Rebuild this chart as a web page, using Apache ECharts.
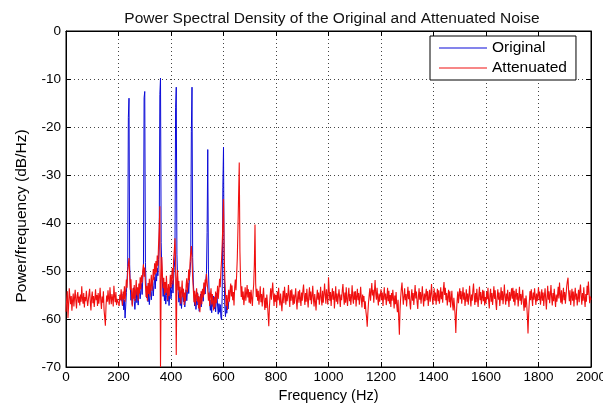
<!DOCTYPE html>
<html><head><meta charset="utf-8">
<script src="https://cdn.jsdelivr.net/npm/echarts/dist/echarts.min.js"></script>
<style>html,body{margin:0;padding:0;background:#fff}#c{width:603px;height:407px}</style>
</head><body><div id="c"></div>
<script>
const chartTitle = 'Power Spectral Density of the Original and Attenuated Noise';
const xAxisTitle = 'Frequency (Hz)';
const yAxisTitle = 'Power/frequency (dB/Hz)';
const seriesNames = ['Original', 'Attenuated'];
const xTickValues = [0, 200, 400, 600, 800, 1000, 1200, 1400, 1600, 1800, 2000];
const yTickValues = [-70, -60, -50, -40, -30, -20, -10, 0];
const freqStep = 2.5;            // Hz between samples
const originalStartHz = 210;
const originalValues = [
  // 210-297.5
  -56.3, -54.8, -57.2, -55.4, -58.1, -56.0, -59.8, -57.3, -54.5, -52.1,
  -49.0, -18, -14, -48.7, -53.4, -56.1, -54.3, -57.0, -55.2, -53.5,
  -56.4, -58.0, -55.7, -53.9, -56.6, -54.2, -57.1, -55.0, -53.3, -55.8,
  -54.1, -52.6, -54.9, -51.7, -49.5, -13.9,
  // 300-397.5
  -12.6, -48.2, -53.1, -55.6, -53.8, -56.4, -54.5, -57.0, -55.1, -53.2,
  -56.0, -54.3, -52.4, -55.2, -53.0, -51.3, -53.7, -50.5, -52.1, -49.4,
  -51.0, -47.6, -45.2, -13.2, -9.8, -44.1, -49.8, -52.7, -55.3, -53.4,
  -56.2, -54.0, -56.9, -55.1, -53.6, -56.3, -54.5, -57.2, -55.0, -53.3,
  // 400-497.5
  -55.8, -53.9, -52.0, -54.6, -51.5, -49.2, -47.0, -16, -11.7, -46.5,
  -51.4, -54.2, -56.5, -54.0, -57.2, -55.3, -57.8, -55.5, -53.7, -56.4,
  -54.6, -57.5, -55.8, -53.9, -56.2, -54.3, -52.5, -54.7, -51.8, -49.9,
  -48.0, -21, -11.7, -47.2, -52.3, -55.0, -57.3, -55.6, -58.0, -56.2,
  // 500-597.5
  -54.5, -57.1, -55.3, -58.4, -56.7, -54.8, -57.5, -55.6, -53.9, -56.3,
  -54.4, -52.6, -54.8, -52.0, -50.5, -42, -24.7, -49.6, -54.1, -56.8,
  -58.2, -56.0, -58.7, -55.9, -57.4, -55.2, -57.9, -56.1, -58.5, -56.3,
  -54.6, -57.3, -59.0, -56.8, -58.6, -57.0, -59.6, -60.2, -55.0, -32.6,
  // 600-620
  -24.2, -50.3, -57.4, -59.5, -57.2, -58.8, -56.5, -57.9, -56.3
];
const attenuatedStartHz = 0;
const attenuatedValues = [
  // 0-97.5
  -58.5, -56.0, -54.2, -59.8, -57.1, -53.6, -55.4, -56.9, -55.2, -58.3,
  -56.1, -54.7, -57.4, -55.6, -53.9, -56.2, -57.8, -55.1, -54.4, -56.6,
  -55.3, -57.2, -54.9, -56.4, -53.2, -55.7, -56.8, -54.6, -57.6, -55.4,
  -56.3, -54.1, -55.9, -57.3, -56.1, -54.8, -53.7, -56.4, -58.2, -55.5,
  // 100-197.5
  -54.3, -56.7, -55.2, -57.5, -55.9, -53.8, -56.1, -55.0, -57.3, -54.6,
  -56.8, -55.4, -53.5, -56.2, -57.9, -55.3, -56.6, -54.2, -58.1, -59.7,
  -61.4, -57.2, -55.1, -56.4, -54.0, -55.8, -57.0, -53.4, -55.6, -56.9,
  -54.8, -55.7, -57.4, -53.1, -55.2, -56.5, -54.4, -57.1, -55.8, -56.2,
  // 200-297.5
  -55.6, -57.3, -54.9, -56.1, -53.8, -55.5, -57.2, -54.3, -55.9, -53.2,
  -56.4, -54.1, -51.8, -53.5, -50.2, -48.5, -47.3, -50.6, -53.9, -51.7,
  -55.2, -57.4, -53.6, -55.8, -52.9, -56.3, -54.2, -51.9, -55.1, -53.4,
  -56.2, -52.6, -54.7, -51.3, -53.8, -50.9, -52.4, -49.8, -48.6, -51.2,
  // 300-397.5
  -49.3, -52.7, -55.4, -53.1, -56.2, -52.5, -54.8, -51.6, -55.3, -53.0,
  -50.8, -54.1, -52.2, -49.6, -51.9, -48.4, -50.7, -47.9, -50.3, -46.8,
  -48.9, -44.6, -41.2, -36.5, -70.0, -52.8, -47.1, -50.9, -53.6, -51.4,
  -55.0, -52.3, -54.6, -51.0, -53.9, -56.1, -52.7, -55.2, -53.4, -50.8,
  // 400-497.5
  -53.5, -51.2, -49.4, -52.8, -47.6, -45.9, -43.2, -48.1, -67.5, -51.7,
  -49.8, -54.0, -52.1, -55.6, -53.3, -56.8, -54.2, -52.0, -55.5, -53.7,
  -57.1, -54.5, -56.3, -53.0, -51.5, -54.4, -52.6, -49.7, -51.9, -48.3,
  -46.2, -44.8, -47.5, -51.4, -53.8, -56.5, -54.1, -57.2, -55.0, -53.6,
  // 500-597.5
  -56.4, -54.7, -57.8, -55.3, -58.6, -56.0, -54.2, -56.9, -53.7, -55.5,
  -52.4, -54.9, -51.8, -53.3, -50.6, -52.2, -53.9, -56.2, -54.5, -57.3,
  -55.1, -53.6, -57.0, -54.8, -56.5, -58.2, -55.4, -57.6, -54.3, -56.7,
  -55.2, -53.1, -55.8, -54.0, -51.6, -53.4, -50.2, -47.8, -44.5, -40.2,
  // 600-697.5
  -35.0, -46.3, -51.5, -54.6, -57.3, -55.0, -58.1, -55.7, -53.9, -56.4,
  -54.2, -52.6, -55.3, -53.0, -56.1, -54.4, -57.2, -53.5, -51.8, -54.0,
  -50.9, -47.4, -41.3, -34.3, -27.4, -45.8, -52.1, -55.4, -53.2, -56.0,
  -54.3, -57.1, -55.6, -53.4, -56.2, -54.7, -52.9, -55.5, -53.8, -56.6,
  // 700-797.5
  -54.4, -56.8, -53.9, -55.7, -57.3, -54.6, -52.8, -48.7, -40.3, -52.5,
  -55.4, -53.7, -56.2, -54.1, -57.0, -55.3, -53.2, -56.5, -54.8, -57.4,
  -55.1, -53.5, -56.3, -58.1, -55.6, -57.7, -54.9, -56.8, -59.2, -61.5,
  -57.4, -55.2, -53.6, -56.0, -54.2, -52.4, -55.1, -57.3, -54.7, -56.4,
  // 800-897.5
  -55.0, -57.6, -54.3, -56.1, -53.5, -55.8, -57.2, -54.7, -56.5, -58.4,
  -55.9, -54.1, -56.7, -53.3, -55.2, -57.0, -54.6, -56.3, -55.1, -52.9,
  -55.6, -57.5, -54.0, -56.2, -53.8, -55.4, -57.1, -54.9, -56.8, -55.3,
  -53.6, -56.0, -58.0, -55.5, -54.2, -56.6, -53.9, -55.7, -57.3, -54.5,
  // 900-997.5
  -56.2, -54.0, -52.8, -55.3, -57.1, -54.6, -56.4, -53.7, -55.9, -57.6,
  -55.0, -53.4, -56.1, -54.3, -56.9, -55.2, -53.1, -55.7, -57.4, -54.8,
  -56.3, -58.2, -55.6, -53.9, -56.0, -54.5, -57.0, -55.4, -53.3, -55.8,
  -57.2, -54.1, -56.6, -55.0, -52.6, -54.9, -56.8, -53.8, -55.5, -57.0,
  // 1000-1097.5
  -51.3, -53.9, -56.2, -54.4, -57.3, -55.1, -53.6, -56.0, -54.2, -57.8,
  -55.5, -53.2, -56.4, -54.7, -56.9, -55.3, -53.8, -55.6, -57.5, -54.9,
  -56.1, -54.0, -52.7, -55.2, -57.0, -54.5, -56.6, -53.4, -55.9, -57.3,
  -55.0, -53.5, -56.3, -54.8, -57.1, -55.4, -53.0, -55.7, -56.8, -54.3,
  // 1100-1197.5
  -56.0, -54.2, -57.4, -55.3, -53.7, -56.1, -54.6, -57.0, -55.5, -53.3,
  -55.8, -57.6, -54.9, -56.4, -55.2, -57.9, -56.3, -58.4, -59.6, -61.6,
  -58.7, -56.5, -55.0, -53.6, -56.2, -54.4, -52.5, -55.1, -53.9, -56.6,
  -54.2, -51.9, -54.8, -56.0, -53.5, -55.6, -57.2, -54.7, -56.4, -55.0,
  // 1200-1297.5
  -53.8, -56.1, -54.5, -57.3, -55.2, -53.4, -56.0, -54.7, -57.1, -55.6,
  -53.5, -56.3, -54.1, -56.8, -55.0, -57.5, -54.6, -56.2, -53.9, -55.7,
  -57.8, -55.1, -56.9, -54.4, -57.2, -58.6, -56.0, -59.8, -63.3, -58.1,
  -55.5, -53.7, -52.4, -54.9, -57.0, -55.3, -53.6, -56.1, -54.8, -57.4,
  // 1300-1397.5
  -55.2, -53.3, -55.9, -54.1, -56.7, -58.0, -55.4, -53.8, -56.2, -54.6,
  -57.1, -55.0, -52.9, -55.7, -54.3, -56.5, -57.9, -55.3, -53.6, -56.0,
  -54.4, -56.8, -55.1, -53.2, -55.8, -57.4, -54.7, -56.3, -55.0, -53.7,
  -56.1, -54.2, -57.3, -55.6, -53.9, -56.4, -54.8, -52.7, -55.3, -57.0,
  // 1400-1497.5
  -55.4, -53.6, -56.2, -54.5, -57.0, -55.1, -53.7, -56.3, -54.0, -56.8,
  -55.5, -53.4, -55.9, -54.3, -56.6, -53.8, -52.3, -55.0, -53.5, -56.1,
  -54.6, -57.2, -55.3, -53.9, -56.5, -54.2, -57.6, -55.8, -54.1, -56.9,
  -58.2, -55.6, -57.3, -59.4, -62.9, -58.5, -56.1, -54.3, -56.7, -55.0,
  // 1500-1597.5
  -53.6, -55.9, -54.2, -56.8, -55.1, -53.4, -56.0, -54.5, -57.3, -55.7,
  -53.8, -56.4, -54.7, -57.0, -55.2, -53.1, -55.6, -57.4, -54.9, -56.2,
  -54.0, -52.6, -55.3, -57.1, -54.6, -56.5, -53.7, -55.8, -57.5, -55.0,
  -53.3, -56.1, -54.4, -56.9, -55.5, -53.9, -56.3, -54.1, -57.2, -55.4,
  // 1600-1697.5
  -56.7, -54.3, -55.9, -53.5, -56.2, -57.8, -55.0, -53.7, -56.4, -54.6,
  -57.1, -55.3, -53.2, -55.8, -54.0, -56.6, -58.1, -55.4, -53.8, -56.0,
  -54.5, -57.3, -55.6, -53.4, -56.1, -54.2, -56.9, -55.1, -52.8, -55.5,
  -57.0, -54.7, -56.3, -53.9, -55.7, -57.5, -54.4, -56.2, -55.0, -53.6,
  // 1700-1797.5
  -55.8, -53.5, -56.4, -54.1, -57.2, -55.0, -53.7, -56.0, -54.6, -57.4,
  -55.5, -53.3, -56.2, -54.8, -57.0, -55.2, -53.9, -56.5, -58.3, -55.7,
  -57.6, -55.1, -56.8, -59.3, -63.0, -58.9, -56.4, -54.2, -56.1, -53.8,
  -55.6, -57.3, -54.5, -56.0, -53.6, -55.4, -57.1, -54.7, -56.3, -55.0,
  // 1800-1897.5
  -53.4, -56.1, -54.3, -57.0, -55.6, -53.8, -56.2, -54.5, -57.3, -55.2,
  -53.6, -55.9, -58.0, -55.4, -53.1, -56.0, -54.2, -56.7, -55.0, -52.9,
  -55.5, -57.2, -54.6, -56.3, -53.7, -55.8, -57.5, -54.9, -56.4, -55.1,
  -53.3, -55.7, -52.4, -54.8, -56.6, -54.0, -56.9, -55.3, -53.5, -56.1,
  // 1900-1997.5
  -54.4, -56.8, -55.0, -53.2, -52.1, -51.4, -54.6, -56.3, -54.0, -57.1,
  -55.5, -53.7, -56.2, -54.3, -57.4, -55.1, -53.5, -56.0, -54.7, -57.2,
  -55.6, -53.9, -56.5, -54.1, -52.8, -55.3, -57.0, -54.6, -56.2, -53.4,
  -55.7, -57.5, -54.8, -56.4, -53.1, -55.0, -52.2, -54.5, -56.7, -55.3,
  // 2000
  -56.0
];

function pairs(start, values) {
  return values.map((v, i) => [start + i * freqStep, v]);
}

const fontFam = '"Liberation Sans", Arial, sans-serif';
const gridDots = { color: '#444', width: 1, type: [1, 3] };
const xMin = xTickValues[0], xMax = xTickValues[xTickValues.length - 1];
const xInt = xTickValues[1] - xTickValues[0];
const yMin = yTickValues[0], yMax = yTickValues[yTickValues.length - 1];
const yInt = yTickValues[1] - yTickValues[0];
const frameTick = { show: true, inside: true, length: 5, lineStyle: { color: '#000' } };
const frameLine = { show: true, onZero: false, lineStyle: { color: '#000' } };

const chart = echarts.init(document.getElementById('c'), null, { renderer: 'canvas' });
chart.setOption({
  animation: false,
  backgroundColor: '#fff',
  title: {
    text: chartTitle, left: 327, top: 6, textAlign: 'center',
    textStyle: { fontFamily: fontFam, fontSize: 15.5, fontWeight: 'normal', color: '#111' }
  },
  legend: {
    data: seriesNames, orient: 'vertical', left: 430, top: 36,
    icon: 'rect', itemWidth: 48, itemHeight: 1, itemGap: 4,
    padding: [4, 9, 4, 9], borderColor: '#000', borderWidth: 1, backgroundColor: '#fff',
    textStyle: { fontFamily: fontFam, fontSize: 15.5, color: '#000' }
  },
  grid: {
    left: 66, right: 12, top: 31, bottom: 40, containLabel: false, outerBoundsMode: 'none',
    show: true, borderColor: '#000', borderWidth: 1, backgroundColor: 'transparent'
  },
  xAxis: [{
    type: 'value', min: xMin, max: xMax, interval: xInt, position: 'bottom',
    name: xAxisTitle, nameLocation: 'middle', nameGap: 18,
    nameTextStyle: { fontFamily: fontFam, fontSize: 14.5, color: '#000' },
    axisLine: frameLine, axisTick: frameTick,
    axisLabel: { fontFamily: fontFam, fontSize: 13.5, color: '#000', margin: 3, formatter: v => String(v) },
    splitLine: { show: true, lineStyle: gridDots }
  }, {
    type: 'value', min: xMin, max: xMax, interval: xInt, position: 'top',
    axisLine: frameLine, axisTick: frameTick,
    axisLabel: { show: false }, splitLine: { show: false }
  }],
  yAxis: [{
    type: 'value', min: yMin, max: yMax, interval: yInt, position: 'left',
    name: yAxisTitle, nameLocation: 'middle', nameGap: 36,
    nameTextStyle: { fontFamily: fontFam, fontSize: 15.5, color: '#000', padding: [0, 34, 0, 0] },
    axisLine: frameLine, axisTick: frameTick,
    axisLabel: { fontFamily: fontFam, fontSize: 13.5, color: '#000', margin: 5, formatter: v => String(v) },
    splitLine: { show: true, lineStyle: gridDots }
  }, {
    type: 'value', min: yMin, max: yMax, interval: yInt, position: 'right',
    axisLine: frameLine, axisTick: frameTick,
    axisLabel: { show: false }, splitLine: { show: false }
  }],
  series: [{
    name: seriesNames[0], type: 'line', data: pairs(originalStartHz, originalValues),
    showSymbol: false, symbol: 'none', sampling: null, z: 2,
    lineStyle: { color: '#0a0ad8', width: 1 }, itemStyle: { color: '#0a0ad8' }
  }, {
    name: seriesNames[1], type: 'line', data: pairs(attenuatedStartHz, attenuatedValues),
    showSymbol: false, symbol: 'none', sampling: null, z: 3,
    lineStyle: { color: '#f01010', width: 1.1 }, itemStyle: { color: '#f01010' }
  }]
});
</script></body></html>
